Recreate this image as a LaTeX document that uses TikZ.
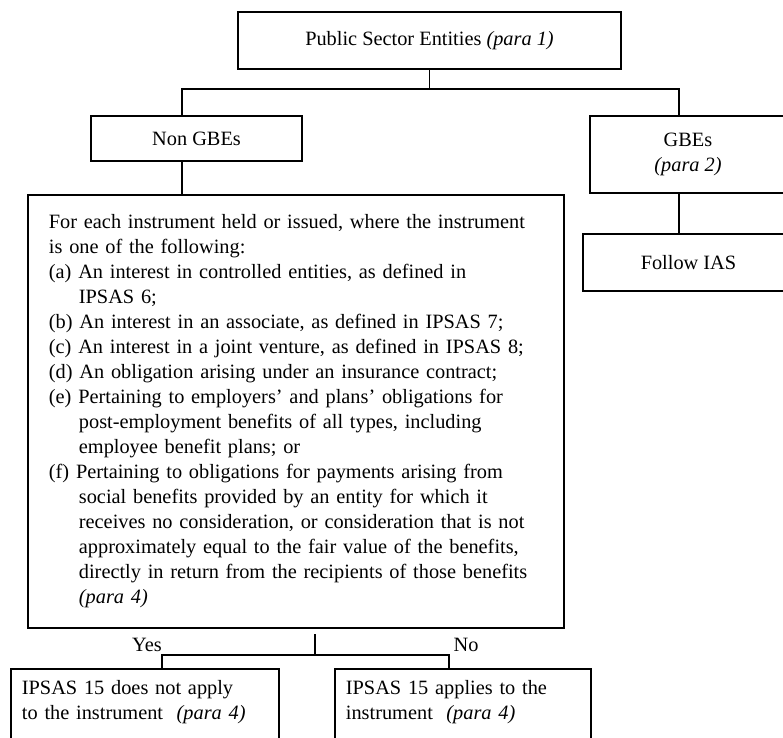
\documentclass[tikz,border=0pt]{standalone}
\usepackage{fontspec}
\setmainfont{Liberation Serif}
\usepackage{tikz}
\newcommand{\subindent}{\hspace*{18pt}}
\tikzset{
  box/.style={draw, line width=1.1pt, rectangle, inner sep=0pt, align=center},
  textbox/.style={draw, line width=1.1pt, rectangle, anchor=north west, align=left},
  link/.style={line width=1.1pt}
}

\begin{document}
\begin{tikzpicture}[x=0.6pt, y=-0.6pt, font=\fontsize{12.2}{15}\selectfont]
        \clip (0,0) rectangle (783,738);
        \node[box, minimum width=229.8pt, minimum height=34.2pt] (pse) at (429.5,40.5) {Public Sector Entities \textit{(para 1)}};
        \node[box, minimum width=126.6pt, minimum height=27pt] (nongbe) at (196.5,138.5) {Non GBEs};
        \node[box, minimum width=117.6pt, minimum height=46.2pt] (gbe) at (688,154.5) {GBEs\\\textit{(para 2)}};
        \node[box, minimum width=126.6pt, minimum height=34.2pt] (ias) at (688.5,262.5) {Follow IAS};
        \node[textbox, text width=296.4pt, inner xsep=12.6pt, inner ysep=9pt, minimum height=259.8pt] (scope) at (27,194) {For each instrument held or issued, where the instrument\\
is one of the following:\\
(a) An interest in controlled entities, as defined in\\
\subindent IPSAS 6;\\
(b) An interest in an associate, as defined in IPSAS 7;\\
(c) An interest in a joint venture, as defined in IPSAS 8;\\
(d) An obligation arising under an insurance contract;\\
(e) Pertaining to employers’ and plans’ obligations for\\
\subindent post-employment benefits of all types, including\\
\subindent employee benefit plans; or\\
(f) Pertaining to obligations for payments arising from\\
\subindent social benefits provided by an entity for which it\\
\subindent receives no consideration, or consideration that is not\\
\subindent approximately equal to the fair value of the benefits,\\
\subindent directly in return from the recipients of those benefits\\
\subindent \textit{(para 4)}};
        \node[textbox, text width=147.6pt, inner sep=6.6pt, text depth=40pt] (notapply) at (10,668) {IPSAS 15 does not apply\\to the instrument~ \textit{(para 4)}};
        \node[textbox, text width=140.4pt, inner sep=6.6pt, text depth=40pt] (applies) at (334,668) {IPSAS 15 applies to the\\instrument~ \textit{(para 4)}};
        \node (yes) at (147,645) {Yes};
        \node (no) at (466,645) {No};
        \coordinate (jl) at (182,89);
        \coordinate (jr) at (679,89);
        \coordinate (split) at (315,634);
        \coordinate (bl) at (162,655);
        \coordinate (br) at (449,655);
        \draw[link] (pse.south) -- (pse.south |- jl);
        \draw[link] (jl |- nongbe.north) -- (jl) -- (jr) -- (jr |- gbe.north);
        \draw[link] (jl |- nongbe.south) -- (jl |- scope.north);
        \draw[link] (jr |- gbe.south) -- (jr |- ias.north);
        \draw[link] (split) -- (split |- bl);
        \draw[link] (bl |- notapply.north) -- (bl) -- (br) -- (br |- applies.north);
    \end{tikzpicture}
\end{document}
